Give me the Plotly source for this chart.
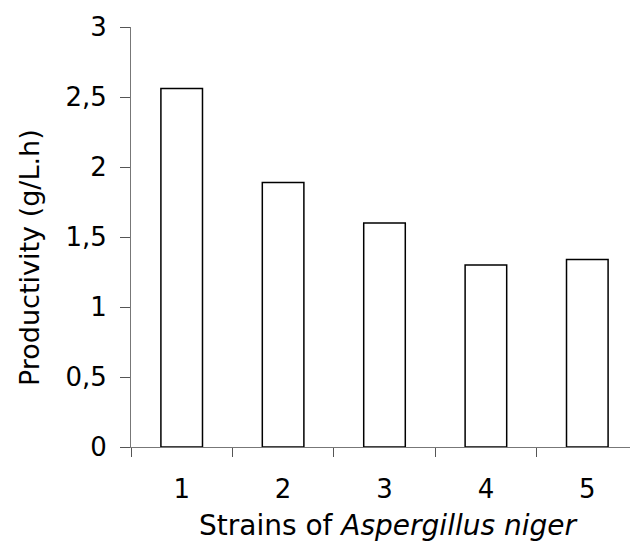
import plotly.graph_objects as go

# Data
strains = ["1", "2", "3", "4", "5"]
productivity = [2.56, 1.89, 1.60, 1.30, 1.34]
y_ticks = [0, 0.5, 1, 1.5, 2, 2.5, 3]

fig = go.Figure(
    go.Bar(
        x=strains,
        y=productivity,
        width=0.41,
        marker=dict(color="white", line=dict(color="black", width=1.5)),
        showlegend=False,
    )
)

font = "DejaVu Sans, Arial, sans-serif"

# page body has an 8px margin, so the figure is 8px smaller than the window
fig.update_layout(
    width=630,
    height=540,
    margin=dict(l=123, r=0, t=19, b=101),
    plot_bgcolor="white",
    paper_bgcolor="white",
    separators=", ",
    font=dict(family=font, size=26, color="black"),
)

fig.update_xaxes(
    type="category",
    range=[-0.5, 4.5],
    showline=True,
    linecolor="#777",
    linewidth=1,
    ticks="outside",
    tickson="boundaries",
    ticklen=9,
    tickcolor="#555",
    showgrid=False,
    tickfont=dict(size=26),
    ticklabelstandoff=19,
)

fig.update_yaxes(
    range=[0, 3],
    tickvals=y_ticks,
    showline=True,
    linecolor="#777",
    linewidth=1,
    ticks="outside",
    ticklen=10,
    tickcolor="#555",
    showgrid=False,
    zeroline=False,
    tickfont=dict(size=26),
    ticklabelstandoff=8,
)

# Axis titles as annotations for precise placement
fig.add_annotation(
    text="Productivity (g/L.h)",
    xref="paper", yref="paper", x=0, y=0.5,
    xanchor="center", yanchor="middle",
    xshift=-102, yshift=-21,
    textangle=-90, showarrow=False,
    font=dict(size=27, family=font),
)
fig.add_annotation(
    text="Strains of <i>Aspergillus niger</i>",
    xref="paper", yref="paper", x=0.5, y=0,
    xanchor="center", yanchor="middle",
    xshift=3, yshift=-78, showarrow=False,
    font=dict(size=28, family=font),
)

fig.write_html("out.html")
